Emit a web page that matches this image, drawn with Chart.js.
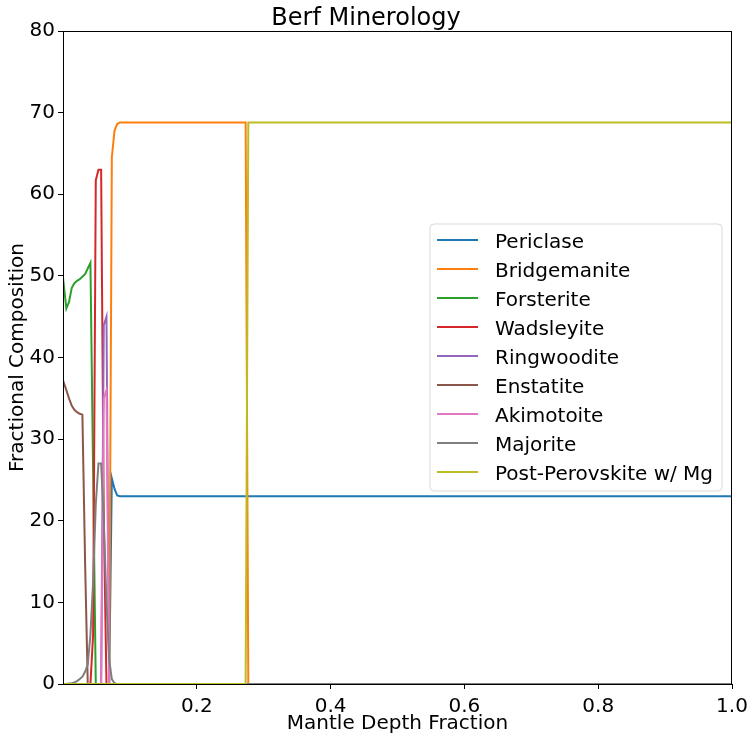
<!DOCTYPE html>
<html>
<head>
<meta charset="utf-8">
<script src="https://cdn.jsdelivr.net/npm/chart.js@4.4.1/dist/chart.umd.min.js"></script>
<style>
  body { margin: 0; background: #fff; }
</style>
</head>
<body>
<canvas id="chart" width="755" height="740"></canvas>
<script>
// profundidad del manto (fraccion)
const depth = [0, 0.005, 0.009, 0.013, 0.017, 0.021, 0.025, 0.029, 0.033, 0.037,
  0.041, 0.045, 0.049, 0.053, 0.057, 0.061, 0.065, 0.069, 0.073, 0.077,
  0.081, 0.085, 0.089, 0.273, 0.277, 1.0];

const periclase    = [0, 0, 0, 0, 0, 0, 0, 0, 0, 0, 0, 0, 0, 0, 0, 0, 0, 0, 25.2, 23.9, 23.1, 23.0, 23.0, 23.0, 23.0, 23.0];
const bridgemanite = [0, 0, 0, 0, 0, 0, 0, 0, 0, 0, 0, 0, 0, 0, 0, 0, 0, 0, 64.5, 67.8, 68.6, 68.8, 68.8, 68.8, 0, 0];
const forsterite   = [49.8, 46.0, 46.8, 48.5, 49.1, 49.4, 49.6, 49.9, 50.2, 50.9, 51.6, 26, 0, 0, 0, 0, 0, 0, 0, 0, 0, 0, 0, 0, 0, 0];
const wadsleyite   = [0, 0, 0, 0, 0, 0, 0, 0, 0, 0, 0, 6, 61.7, 63.0, 63.0, 20, 0, 0, 0, 0, 0, 0, 0, 0, 0, 0];
const ringwoodite  = [0, 0, 0, 0, 0, 0, 0, 0, 0, 0, 0, 0, 0, 0, 0, 44, 45, 0, 0, 0, 0, 0, 0, 0, 0, 0];
const enstatite    = [37.2, 36.0, 35.0, 34.1, 33.6, 33.3, 33.1, 33.0, 15, 0, 0, 0, 0, 0, 0, 0, 0, 0, 0, 0, 0, 0, 0, 0, 0, 0];
const akimotoite   = [0, 0, 0, 0, 0, 0, 0, 0, 0, 0, 0, 0, 0, 0, 0, 35, 36, 0, 0, 0, 0, 0, 0, 0, 0, 0];
const majorite     = [0, 0, 0.05, 0.1, 0.2, 0.35, 0.6, 0.9, 1.5, 2.4, 6, 12.5, 22, 27, 27, 20, 10, 3, 0.6, 0.1, 0, 0, 0, 0, 0, 0];
const postPerov    = [0, 0, 0, 0, 0, 0, 0, 0, 0, 0, 0, 0, 0, 0, 0, 0, 0, 0, 0, 0, 0, 0, 0, 0, 68.8, 68.8];

const names = ['Periclase', 'Bridgemanite', 'Forsterite', 'Wadsleyite', 'Ringwoodite',
  'Enstatite', 'Akimotoite', 'Majorite', 'Post-Perovskite w/ Mg'];
const series = [periclase, bridgemanite, forsterite, wadsleyite, ringwoodite,
  enstatite, akimotoite, majorite, postPerov];
const colors = ['#1f77b4', '#ff7f0e', '#2ca02c', '#d62728', '#9467bd',
  '#8c564b', '#e377c2', '#7f7f7f', '#bcbd22'];

const xTicks = [0.2, 0.4, 0.6, 0.8, 1.0];
const yTicks = [0, 10, 20, 30, 40, 50, 60, 70, 80];

const FONT = 'DejaVu Sans';

// marco negro alrededor del area del grafico
const framePlugin = {
  id: 'frame',
  afterDatasetsDraw(chart) {
    const { ctx, chartArea: a } = chart;
    ctx.save();
    ctx.strokeStyle = '#000';
    ctx.lineWidth = 1;
    ctx.strokeRect(a.left + 0.5, a.top + 0.5, a.right - a.left - 1, a.bottom - a.top);
    ctx.restore();
  }
};

// leyenda dentro del area (como matplotlib)
const legendPlugin = {
  id: 'boxLegend',
  afterDraw(chart) {
    const ctx = chart.ctx;
    const x = 430, y = 224, w = 292, h = 267, r = 4;
    ctx.save();
    ctx.beginPath();
    ctx.moveTo(x + r, y);
    ctx.arcTo(x + w, y, x + w, y + h, r);
    ctx.arcTo(x + w, y + h, x, y + h, r);
    ctx.arcTo(x, y + h, x, y, r);
    ctx.arcTo(x, y, x + w, y, r);
    ctx.closePath();
    ctx.fillStyle = 'rgba(255,255,255,0.8)';
    ctx.fill();
    ctx.strokeStyle = '#d9d9d9';
    ctx.lineWidth = 1;
    ctx.stroke();

    ctx.font = '20px "' + FONT + '"';
    ctx.textBaseline = 'alphabetic';
    ctx.fillStyle = '#000';
    chart.data.datasets.forEach((ds, i) => {
      const cy = 240 + i * 29;
      ctx.beginPath();
      ctx.strokeStyle = ds.borderColor;
      ctx.lineWidth = 2;
      ctx.moveTo(437, cy);
      ctx.lineTo(478, cy);
      ctx.stroke();
      ctx.fillText(ds.label, 495, cy + 7.5);
    });
    ctx.restore();
  }
};

new Chart(document.getElementById('chart'), {
  type: 'line',
  data: {
    datasets: series.map((vals, i) => ({
      label: names[i],
      data: vals.map((v, j) => ({ x: depth[j], y: v })),
      borderColor: colors[i],
      backgroundColor: colors[i],
      borderWidth: 2,
      pointRadius: 0,
      tension: 0,
      fill: false,
      order: series.length - i
    }))
  },
  options: {
    responsive: false,
    animation: false,
    devicePixelRatio: 1,
    layout: { padding: { left: 0, right: 23, top: 0, bottom: 0 } },
    plugins: {
      legend: { display: false },
      tooltip: { enabled: false },
      title: {
        display: true,
        text: 'Berf Minerology',
        color: '#000',
        font: { family: FONT, size: 24, weight: 'normal', lineHeight: 1 },
        padding: { top: 7, bottom: 0 }
      }
    },
    scales: {
      x: {
        type: 'linear',
        min: 0,
        max: 1,
        afterBuildTicks: s => { s.ticks = xTicks.map(v => ({ value: v })); },
        afterFit: s => { s.height = 56; },
        grid: { drawOnChartArea: false, drawTicks: true, tickLength: 5, tickColor: '#000' },
        border: { display: true, color: '#000' },
        ticks: {
          color: '#000',
          padding: 6,
          maxRotation: 0,
          font: { family: FONT, size: 20 },
          callback: v => Number(v).toFixed(1)
        },
        title: {
          display: true,
          text: 'Mantle Depth Fraction',
          color: '#000',
          font: { family: FONT, size: 20 },
          padding: { top: 0, bottom: 4 }
        }
      },
      y: {
        min: 0,
        max: 80,
        afterBuildTicks: s => { s.ticks = yTicks.map(v => ({ value: v })); },
        afterFit: s => { s.width = 63; },
        grid: { drawOnChartArea: false, drawTicks: true, tickLength: 5, tickColor: '#000' },
        border: { display: true, color: '#000' },
        ticks: {
          color: '#000',
          padding: 3,
          font: { family: FONT, size: 20 }
        },
        title: {
          display: true,
          text: 'Fractional Composition',
          color: '#000',
          font: { family: FONT, size: 20 },
          padding: { top: 6, bottom: 0 }
        }
      }
    }
  },
  plugins: [framePlugin, legendPlugin]
});
</script>
</body>
</html>
